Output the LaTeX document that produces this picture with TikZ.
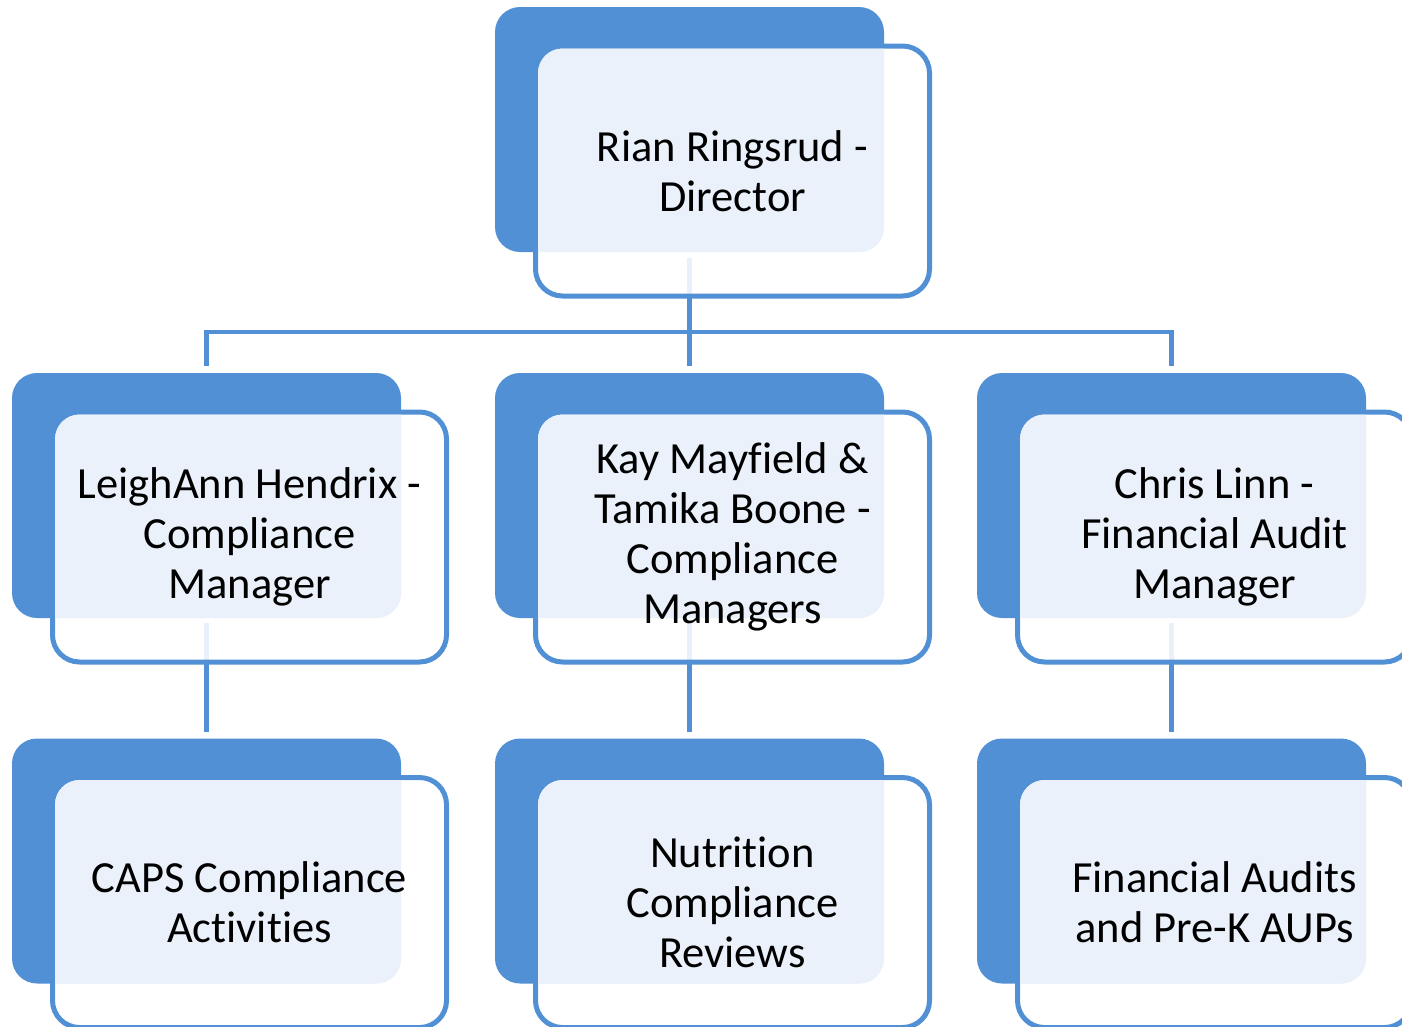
\documentclass[tikz,border=0pt]{standalone}
\usepackage{fontspec}
\setmainfont{Carlito}[Ligatures=CommonOff]
\definecolor{cblue}{RGB}{81,144,212}
\definecolor{clight}{RGB}{234,241,250}
\tikzset{
  backbox/.style={rectangle, rounded corners=25pt, fill=cblue, minimum width=389pt, minimum height=245pt, inner sep=0pt, outer sep=0pt},
  frontbox/.style={rectangle, rounded corners=27pt, draw=cblue, line width=5pt, fill=white, fill opacity=0.87, minimum width=394pt, minimum height=250pt, inner sep=0pt, outer sep=0pt},
  conn/.style={draw=cblue, line width=4.5pt},
  lbl/.style={align=center, font=\fontsize{44.5}{50}\selectfont, text=black, inner sep=0pt}
}
\newcommand\orgback[2]{\node[backbox] (#1-b) at (#2) {};}
\newcommand\orgfront[2]{%
  \node[frontbox] (#1-f) at ([xshift=43pt,yshift=-41.5pt]#1-b.center) {};
  \begin{scope}
    \clip[rounded corners=24.5pt] ([xshift=2.5pt,yshift=2.5pt]#1-f.south west) rectangle ([xshift=-2.5pt,yshift=-2.5pt]#1-f.north east);
    \fill[clight, rounded corners=25pt] (#1-b.south west) rectangle (#1-b.north east);
  \end{scope}
  \node[lbl] (#1-t) at (#1-f.center) {#2};
}
\begin{document}
\begin{tikzpicture}[x=1pt, y=-1pt]
\useasboundingbox (0,0) rectangle (1402,1026);
\clip (0,0) rectangle (1402,1026);
\orgback{u0}{689.5,129.5}
\orgback{u1}{206.5,495.5}
\orgback{u2}{689.5,495.5}
\orgback{u3}{1171.5,495.5}
\orgback{u4}{206.5,861}
\orgback{u5}{689.5,861}
\orgback{u6}{1171.5,861}
% connectors
\draw[conn, shorten <=6pt, shorten >=7pt] (u0-b.south) -- ++(0,80) -| (u1-b.north);
\draw[conn, shorten <=6pt, shorten >=7pt] (u0-b.south) -- (u2-b.north);
\draw[conn, shorten <=6pt, shorten >=7pt] (u0-b.south) -- ++(0,80) -| (u3-b.north);
\draw[conn, shorten <=5pt, shorten >=7pt] (u1-b.south) -- (u4-b.north);
\draw[conn, shorten <=5pt, shorten >=7pt] (u2-b.south) -- (u5-b.north);
\draw[conn, shorten <=5pt, shorten >=7pt] (u3-b.south) -- (u6-b.north);
% fronts
\orgfront{u0}{Rian Ringsrud -\\Director}
\orgfront{u1}{LeighAnn Hendrix -\\Compliance\\Manager}
\orgfront{u2}{Kay Mayfield \&\\Tamika Boone -\\Compliance\\Managers}
\orgfront{u3}{Chris Linn -\\Financial Audit\\Manager}
\orgfront{u4}{CAPS Compliance\\Activities}
\orgfront{u5}{Nutrition\\Compliance\\Reviews}
\orgfront{u6}{Financial Audits\\and Pre-K AUPs}
\end{tikzpicture}
\end{document}
